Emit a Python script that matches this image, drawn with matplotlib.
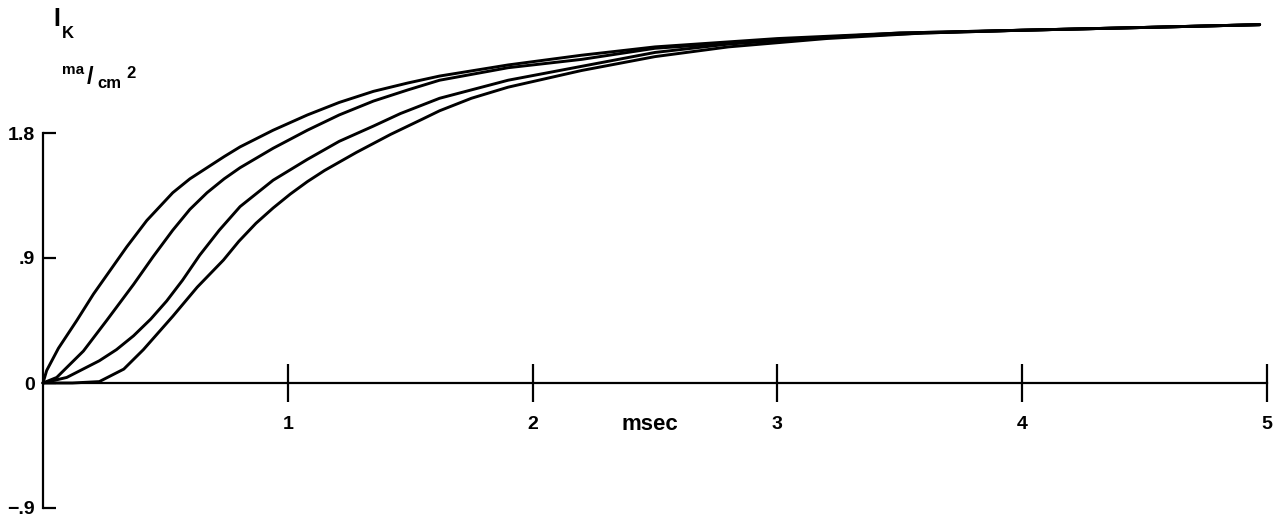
import matplotlib
matplotlib.use("Agg")
import matplotlib.pyplot as plt

# values (time in msec, current in ma/cm2)
t1 = [0, 0.015, 0.063, 0.138, 0.206, 0.274, 0.342, 0.424, 0.53, 0.60, 0.67, 0.74, 0.805,
      0.94, 1.08, 1.21, 1.35, 1.49, 1.62, 1.9, 2.2, 2.5, 3.0, 3.5, 4.0, 4.5, 4.97]
i1 = [0, 0.09, 0.25, 0.45, 0.64, 0.81, 0.98, 1.17, 1.37, 1.47, 1.55, 1.63, 1.70,
      1.82, 1.93, 2.02, 2.10, 2.16, 2.21, 2.29, 2.36, 2.42, 2.48, 2.52, 2.54, 2.56, 2.58]

t2 = [0, 0.056, 0.165, 0.26, 0.37, 0.45, 0.53, 0.60, 0.67, 0.74, 0.805, 0.94, 1.08,
      1.21, 1.35, 1.49, 1.62, 1.9, 2.2, 2.5, 3.0, 3.5, 4.0, 4.5, 4.97]
i2 = [0, 0.04, 0.23, 0.45, 0.71, 0.91, 1.10, 1.25, 1.37, 1.47, 1.55, 1.69, 1.82,
      1.93, 2.03, 2.11, 2.18, 2.27, 2.33, 2.41, 2.47, 2.52, 2.54, 2.56, 2.58]

t3 = [0, 0.097, 0.23, 0.30, 0.37, 0.44, 0.505, 0.57, 0.64, 0.72, 0.805, 0.94, 1.08,
      1.21, 1.35, 1.46, 1.62, 1.9, 2.2, 2.5, 2.8, 3.2, 3.6, 4.0, 4.5, 4.97]
i3 = [0, 0.04, 0.16, 0.24, 0.34, 0.46, 0.59, 0.74, 0.92, 1.10, 1.27, 1.46, 1.61,
      1.74, 1.85, 1.94, 2.05, 2.18, 2.28, 2.38, 2.44, 2.49, 2.52, 2.54, 2.56, 2.58]

t4 = [0, 0.12, 0.23, 0.33, 0.41, 0.53, 0.63, 0.737, 0.80, 0.87, 0.94, 1.01, 1.08,
      1.15, 1.28, 1.42, 1.55, 1.62, 1.75, 1.9, 2.2, 2.5, 2.8, 3.2, 3.6, 4.0, 4.5, 4.97]
i4 = [0, 0.0, 0.01, 0.10, 0.24, 0.48, 0.69, 0.885, 1.02, 1.15, 1.26, 1.36, 1.45,
      1.53, 1.66, 1.79, 1.90, 1.96, 2.05, 2.13, 2.25, 2.35, 2.42, 2.48, 2.52, 2.54, 2.56, 2.58]

xticks = [1, 2, 3, 4, 5]
yticks = [-0.9, 0, 0.9, 1.8]
ytick_labels = ["\u2212.9", "0", ".9", "1.8"]

plt.rcParams['font.family'] = ['Liberation Sans', 'DejaVu Sans']

W, H = 1280, 524
fig = plt.figure(figsize=(W / 100, H / 100), dpi=100)
# axes placed in pixels: x 0..5 -> 43..1267, y -0.9..2.7 -> 508..8
ax = fig.add_axes([43 / W, (H - 508) / H, (1267 - 43) / W, 500 / H])
ax.set_xlim(0, 5)
ax.set_ylim(-0.9, 2.7)

for t, i in [(t1, i1), (t2, i2), (t3, i3), (t4, i4)]:
    ax.plot(t, i, color='black', linewidth=2.1, solid_capstyle='round',
            solid_joinstyle='round', clip_on=False)

# axis lines
ax.spines['top'].set_visible(False)
ax.spines['right'].set_visible(False)
ax.spines['bottom'].set_position(('data', 0))
ax.spines['bottom'].set_bounds(0, 5)
ax.spines['left'].set_bounds(-0.9, 1.8)
ax.spines['bottom'].set_linewidth(1.6)
ax.spines['left'].set_linewidth(1.6)

ax.set_xticks(xticks)
ax.set_xticklabels([str(v) for v in xticks])
ax.set_yticks(yticks)
ax.set_yticklabels(ytick_labels)
ax.tick_params(axis='x', direction='inout', length=27, width=1.6, pad=10,
               labelsize=14, labelcolor='black')
ax.tick_params(axis='y', direction='in', length=9, width=1.6, pad=6,
               labelsize=14)
for lab in ax.get_xticklabels() + ax.get_yticklabels():
    lab.set_fontweight('bold')

# labels
fig.text(650 / W, 1 - 425 / H, "msec", ha='center', va='center',
         fontsize=16, fontweight='bold')
fig.text(53 / W, 1 - 19 / H, "I", ha='left', va='center', fontsize=18, fontweight='bold')
fig.text(62 / W, 1 - 34 / H, "K", ha='left', va='center', fontsize=12, fontweight='bold')
fig.text(62 / W, 1 - 70 / H, "ma", ha='left', va='center', fontsize=11, fontweight='bold')
fig.text(87 / W, 1 - 78 / H, "/", ha='left', va='center', fontsize=17, fontweight='bold')
fig.text(97 / W, 1 - 84 / H, "cm", ha='left', va='center', fontsize=12, fontweight='bold')
fig.text(126 / W, 1 - 74 / H, "2", ha='left', va='center', fontsize=12, fontweight='bold')

fig.savefig("out.png", dpi=100, facecolor='white')
